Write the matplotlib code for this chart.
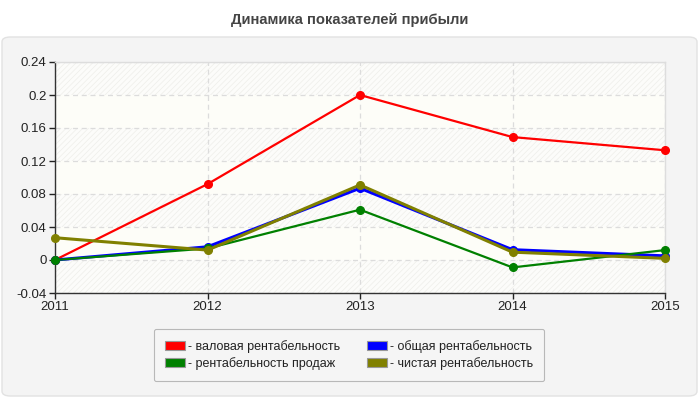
import matplotlib
matplotlib.use("Agg")
import matplotlib.pyplot as plt
from matplotlib.patches import FancyBboxPatch, Patch

plt.rcParams['font.family'] = ['Liberation Sans', 'DejaVu Sans']
plt.rcParams['hatch.linewidth'] = 0.5

years = [2011, 2012, 2013, 2014, 2015]
gross = [0.0, 0.092, 0.200, 0.149, 0.133]
total = [0.0, 0.016, 0.087, 0.0125, 0.005]
sales = [0.0, 0.014, 0.061, -0.009, 0.012]
net = [0.027, 0.012, 0.091, 0.0095, 0.002]
yticks = [-0.04, 0, 0.04, 0.08, 0.12, 0.16, 0.2, 0.24]
ytick_labels = ['-0.04', '0', '0.04', '0.08', '0.12', '0.16', '0.2', '0.24']

series = [
    ('- валовая рентабельность', gross, '#ff0000', 1.6),
    ('- рентабельность продаж', sales, '#008000', 1.6),
    ('- общая рентабельность', total, '#0000ff', 2.2),
    ('- чистая рентабельность', net, '#808000', 2.2),
]
draw_order = [0, 2, 1, 3]

W, H = 700, 400
fig = plt.figure(figsize=(7, 4), dpi=100)
fig.patch.set_facecolor('white')

panel = FancyBboxPatch((2 / W, 4 / H), 695 / W, 359 / H,
                       boxstyle='round,pad=0,rounding_size=0.012',
                       transform=fig.transFigure, facecolor='#f4f4f4',
                       edgecolor='#e2e2e2', linewidth=1, zorder=-10)
fig.patches.append(panel)

fig.text(0.5, 1 - 20 / H, 'Динамика показателей прибыли', ha='center', va='center',
         fontsize=10.6, fontweight='bold', color='#444444')

ax = fig.add_axes([55 / W, 1 - 293 / H, 610 / W, 231 / H])
ax.set_zorder(1)
ax.set_facecolor('#fdfdf8')
ax.set_xlim(years[0], years[-1])
ax.set_ylim(yticks[0], yticks[-1])

for i in range(len(yticks) - 1):
    if i % 2 == 0:
        ax.axhspan(yticks[i], yticks[i + 1], facecolor='#fcfcfa', edgecolor='#eeeeea',
                   hatch='//////', linewidth=0, zorder=0)

ax.grid(True, linestyle=(0, (4, 3)), color='#dcdcdc', linewidth=0.9, zorder=1)
ax.set_axisbelow(True)

for idx in draw_order:
    label, vals, color, lw = series[idx]
    ax.plot(years, vals, color=color, linewidth=lw, marker='o', markersize=5.5,
            zorder=3, clip_on=False)

ax.set_xticks(years)
ax.set_xticklabels([str(y) for y in years])
ax.set_yticks(yticks)
ax.set_yticklabels(ytick_labels)
ax.tick_params(axis='both', labelsize=9.5, colors='#222222', length=4, width=1, pad=2)
ax.tick_params(axis='x', pad=2)
for s in ['left', 'bottom']:
    ax.spines[s].set_color('#333333')
    ax.spines[s].set_linewidth(1)
for s in ['top', 'right']:
    ax.spines[s].set_color('#dddddd')
    ax.spines[s].set_linewidth(1)

handles = [Patch(facecolor=series[i][2], edgecolor='#999999', linewidth=0.8)
           for i in range(4)]
labels = [series[i][0] for i in range(4)]
leg = fig.legend(handles, labels, ncol=2, loc='center',
                 bbox_to_anchor=((152 + 546) / 2 / W, 1 - 355 / H),
                 fontsize=9, frameon=True, fancybox=True,
                 handlelength=1.6, handleheight=0.7, handletextpad=0.2,
                 columnspacing=2.2, labelspacing=0.35, borderpad=0.9,
                 labelcolor='#222222')
leg.get_frame().set_facecolor('#f6f6f6')
leg.get_frame().set_edgecolor('#aaaaaa')
leg.get_frame().set_linewidth(0.8)

fig.savefig('out.png', dpi=100)
